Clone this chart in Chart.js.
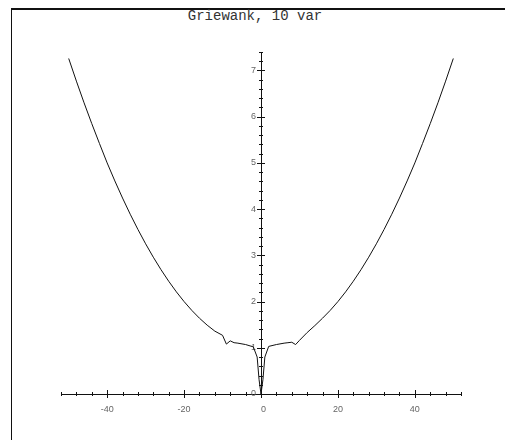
<!DOCTYPE html>
<html>
<head>
<meta charset="utf-8">
<script src="https://cdn.jsdelivr.net/npm/chart.js@4.4.1/dist/chart.umd.min.js"></script>
<style>
  html, body { margin: 0; padding: 0; background: #fff; }
  #wrap { position: relative; width: 505px; height: 440px; overflow: hidden; }
  #frame { position: absolute; left: 11px; top: 8px; width: 520px; height: 460px;
           border-top: 2px solid #111; border-left: 1px solid #111; }
  #title { position: absolute; top: 8px; left: 0; width: 510px; text-align: center;
           font: 14px "Liberation Mono", "DejaVu Sans Mono", monospace; color: #333; }
  canvas { position: absolute; left: 0; top: 0; }
</style>
</head>
<body>
<div id="wrap">
  <div id="frame"></div>
  <div id="title">Griewank, 10 var</div>
  <canvas id="chart" width="505" height="440"></canvas>
</div>
<script>
// values
const xs = [-50, -48, -46, -44, -42, -40, -38, -36, -34, -32, -30, -28, -26, -24, -22, -20,
  -18, -16, -14, -12, -10, -9, -8, -7, -6, -4, -2, -1, -0.5, 0,
  0.5, 1, 2, 4, 6, 7, 8, 9, 10, 12, 14, 16, 18, 20, 22, 24, 26, 28, 30,
  32, 34, 36, 38, 40, 42, 44, 46, 48, 50];
const ys = [7.26, 6.77, 6.3, 5.85, 5.42, 5.0, 4.61, 4.24, 3.89, 3.56, 3.25, 2.96, 2.69, 2.44, 2.21, 2.0,
  1.81, 1.64, 1.49, 1.36, 1.27, 1.08, 1.15, 1.11, 1.1, 1.07, 1.02, 0.8, 0.31, 0,
  0.31, 0.8, 1.03, 1.07, 1.1, 1.11, 1.12, 1.07, 1.16, 1.33, 1.48, 1.64, 1.81, 2.0, 2.21, 2.44, 2.69, 2.96, 3.25,
  3.56, 3.89, 4.24, 4.61, 5.0, 5.42, 5.85, 6.3, 6.77, 7.26];
const xLabels = [-40, -20, 0, 20, 40];
const yLabels = [0, 1, 2, 3, 4, 5, 6, 7];

const isLabel = (list, v) => list.some(l => Math.abs(l - v) < 1e-6);

// tick marks that cross the axis, short for minor, long for labelled ones
const crossTicks = {
  id: 'crossTicks',
  afterDatasetsDraw(chart) {
    const { ctx, scales: { x, y } } = chart;
    const x0 = x.getPixelForValue(0);
    const y0 = y.getPixelForValue(0);
    ctx.save();
    ctx.strokeStyle = '#111';
    ctx.lineWidth = 1;
    ctx.beginPath();
    x.ticks.forEach(t => {
      const px = Math.round(x.getPixelForValue(t.value)) + 0.5;
      const len = isLabel(xLabels, t.value) ? 4 : 2;
      ctx.moveTo(px, y0 - len);
      ctx.lineTo(px, y0 + len);
    });
    y.ticks.forEach(t => {
      const py = Math.round(y.getPixelForValue(t.value)) + 0.5;
      const len = isLabel(yLabels, t.value) ? 4 : 2;
      ctx.moveTo(x0 - len, py);
      ctx.lineTo(x0 + len, py);
    });
    ctx.stroke();
    ctx.restore();
  }
};

new Chart(document.getElementById('chart'), {
  type: 'line',
  plugins: [crossTicks],
  data: {
    datasets: [{
      data: xs.map((x, i) => ({ x: x, y: ys[i] })),
      borderColor: '#111',
      borderWidth: 1,
      pointRadius: 0,
      tension: 0,
      fill: false
    }]
  },
  options: {
    responsive: false,
    animation: false,
    layout: { padding: { left: 61, right: 44, top: 52, bottom: 46 } },
    plugins: { legend: { display: false }, tooltip: { enabled: false } },
    scales: {
      x: {
        type: 'linear',
        min: -52,
        max: 52,
        position: { y: 0 },
        grid: { display: false },
        border: { display: true, color: '#111', width: 1 },
        ticks: {
          stepSize: 4,
          autoSkip: false,
          maxRotation: 0,
          padding: 2,
          color: '#666',
          font: { family: 'Liberation Sans', size: 9 },
          // the 0 sits just right of the vertical axis
          callback: v => !isLabel(xLabels, v) ? '' : (Math.round(v) === 0 ? '  0' : String(Math.round(v)))
        }
      },
      y: {
        type: 'linear',
        min: 0,
        max: 7.4,
        position: { x: 0 },
        grid: { display: false },
        border: { display: true, color: '#111', width: 1 },
        ticks: {
          stepSize: 0.2,
          includeBounds: false,
          autoSkip: false,
          color: '#666',
          font: { family: 'Liberation Sans', size: 9 },
          // labels are right-aligned on the axis, keep a small gap
          callback: v => isLabel(yLabels, v) ? Math.round(v) + '  ' : ''
        }
      }
    }
  }
});
</script>
</body>
</html>
